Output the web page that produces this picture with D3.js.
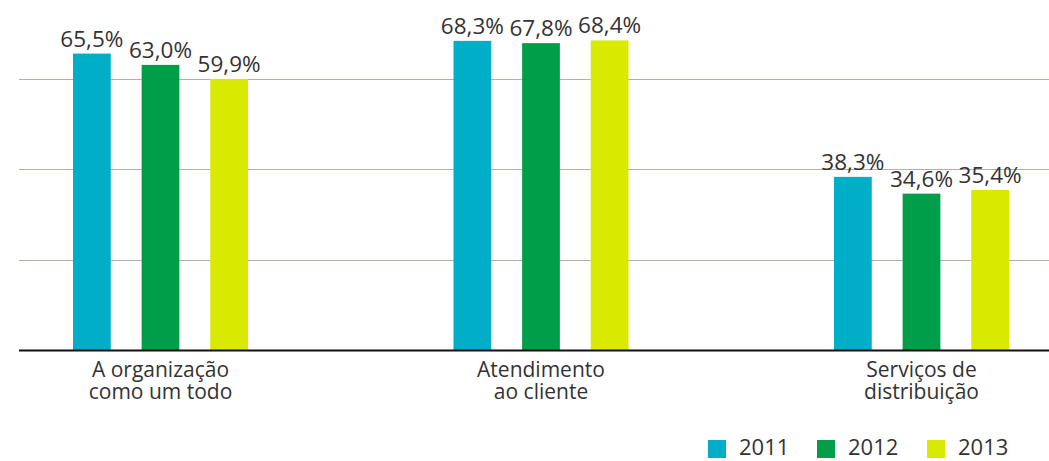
<!DOCTYPE html>
<html><head><meta charset="utf-8">
<script src="https://cdn.jsdelivr.net/npm/d3@7"></script>
<style>body{margin:0;background:#fff}svg{display:block}text{font-family:"Open Sans",sans-serif;fill:#333}</style>
</head><body><svg id="c" width="1049" height="461"></svg>
<script>
const categories = [["A organização","como um todo"],["Atendimento","ao cliente"],["Serviços de","distribuição"]];
const years = ["2011","2012","2013"];
const values2011 = [65.5, 68.3, 38.3];
const values2012 = [63.0, 67.8, 34.6];
const values2013 = [59.9, 68.4, 35.4];
const gridTicks = [20, 40, 60];
const colors = ["#00aec7","#009e49","#d9e900"];

const series = [values2011, values2012, values2013];
const svg = d3.select("#c");
const catKeys = categories.map(c => c.join(" "));
const x0 = d3.scalePoint().domain(catKeys).range([160.5, 921.5]);
const x1 = d3.scaleBand().domain(years).range([-87.5, 87.5]).paddingInner(0.45);
const y = d3.scaleLinear().domain([0, 60]).range([350.5, 78.5]);

// gridlines
svg.append("g").selectAll("line").data(gridTicks).join("line")
  .attr("x1", 19).attr("x2", 1049)
  .attr("y1", d => Math.round(y(d)) + 0.5).attr("y2", d => Math.round(y(d)) + 0.5)
  .attr("stroke", "#b9aea6").attr("stroke-width", 1);

// bars
const g = svg.append("g");
catKeys.forEach((cat, ci) => {
  years.forEach((yr, si) => {
    const v = series[si][ci];
    const bx = x0(cat) + x1(yr);
    g.append("rect").attr("x", bx).attr("width", x1.bandwidth())
      .attr("y", y(v)).attr("height", y(0) - y(v)).attr("fill", colors[si]);
    g.append("text").attr("x", bx + x1.bandwidth()/2).attr("y", y(v) - 7)
      .attr("text-anchor", "middle").attr("font-size", 22.5)
      .text(v.toFixed(1).replace(".", ",") + "%");
  });
});

// baseline
svg.append("line").attr("x1", 19).attr("x2", 1049).attr("y1", 350.5).attr("y2", 350.5)
  .attr("stroke", "#111").attr("stroke-width", 2);

// category labels
catKeys.forEach((cat, ci) => {
  categories[ci].forEach((line, li) => {
    svg.append("text").attr("text-anchor", "middle").attr("font-size", 21)
      .attr("x", x0(cat)).attr("y", 377 + li * 22).text(line);
  });
});

// legend
const legX = [708, 817, 927];
const lg = svg.append("g");
years.forEach((yr, i) => {
  lg.append("rect").attr("x", legX[i]).attr("y", 440).attr("width", 18).attr("height", 18).attr("fill", colors[i]);
  lg.append("text").attr("x", legX[i] + 31).attr("y", 455).attr("font-size", 22).text(yr);
});
</script></body></html>
